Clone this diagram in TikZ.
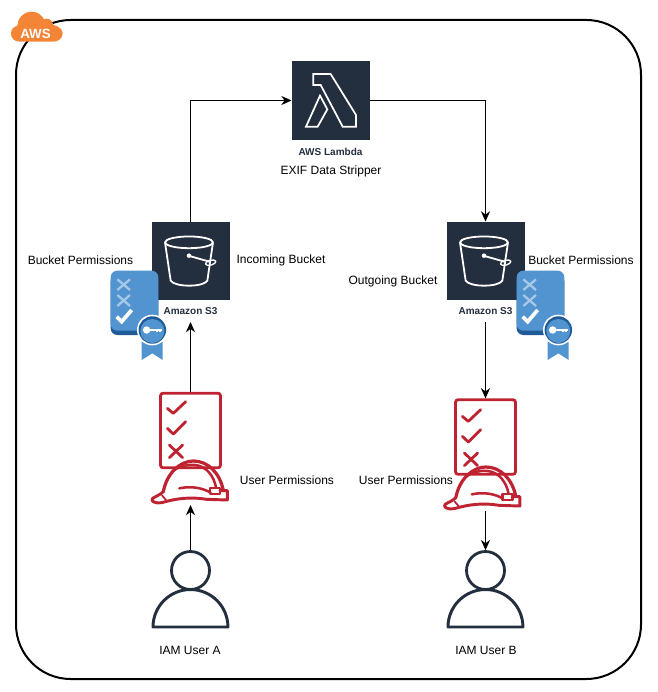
\documentclass[tikz,border=0pt]{standalone}
\usepackage{fontspec}
\setmainfont{Liberation Sans}
\usepackage{tikz}
\usetikzlibrary{arrows.meta}
\definecolor{awsink}{HTML}{232F3E}
\definecolor{awsorange}{HTML}{F58536}
\definecolor{awsred}{HTML}{BF2231}
\definecolor{awsblue}{HTML}{5294CF}
\definecolor{awsdeep}{HTML}{205B99}
\definecolor{awspale}{HTML}{A7C9E8}
\tikzset{
  link/.style     = {-{Stealth[length=2.7mm,width=2.4mm]},line width=0.75pt},
  iconbox/.style  = {fill=awsink,minimum size=58.5pt,inner sep=0pt,outer sep=0pt},
  iconcap/.style  = {font=\fontsize{7.5}{9}\selectfont\bfseries,text=awsink,minimum height=16.5pt,inner sep=0pt,outer sep=0pt},
  caption/.style  = {font=\fontsize{9}{11}\selectfont,text=black,inner sep=0pt},
  listbox/.style  = {draw=awsred,line width=2.1pt,rounded corners=2pt,minimum width=45pt,minimum height=56pt,inner sep=0pt,outer sep=1pt},
  userhead/.style = {circle,draw=awsink,fill=white,line width=2.1pt,minimum size=28.5pt,inner sep=0pt,outer sep=1pt},
  redline/.style  = {draw=awsred,line cap=round,line join=round},
  zoomed/.style   = {x=0.25pt,y=-0.25pt},
  pics/bucket/.style = {code={
    \begin{scope}[zoomed,draw=white,line width=1.35pt,line join=round]
      \draw (267,97) ellipse[x radius=18pt,y radius=4.4pt];
      \draw (195,97) -- (212,212) .. controls (225,232) and (310,232) .. (322,212) -- (339,97);
      \draw (265,137) -- (332,156);
      \draw[line width=1pt,rotate around={15:(332,158)}] (332,158) ellipse[x radius=4pt,y radius=1.8pt];
      \fill[white] (267,137) circle (1.7pt);
    \end{scope}}},
  pics/lambdamark/.style = {code={
    \begin{scope}[zoomed,draw=white,line width=1.3pt,line join=miter]
      \draw (100,72) -- (100,105) -- (122,105) -- (188,230) -- (228,230) -- (228,195) -- (152,72) -- cycle;
      \draw (120,137) -- (78,230) -- (113,230) -- (142,178) -- cycle;
    \end{scope}}},
  pics/marks/.style = {code={
    \begin{scope}[zoomed,redline,line width=2.1pt]
      \draw (82,85) -- (100,100) -- (137,65);
      \draw (82,145) -- (100,162) -- (137,125);
      \draw (88,195) -- (128,233) (128,195) -- (88,233);
    \end{scope}}},
  pics/hardhat/.style = {code={
    \begin{scope}[zoomed,redline,line width=1.9pt]
      \draw[line width=2.4pt] (70,335) .. controls (80,280) and (120,243) .. (160,243) .. controls (205,243) and (240,280) .. (250,332);
      \draw (100,272) .. controls (120,258) and (140,253) .. (165,255) .. controls (200,258) and (222,290) .. (228,322);
      \draw[line width=2.2pt] (240,332) -- (262,332) -- (262,360) -- (200,358) .. controls (150,350) and (110,355) .. (65,368)
        .. controls (45,372) and (30,362) .. (38,355) .. controls (45,350) and (60,345) .. (70,335);
      \draw[line width=1.3pt] (66,346) -- (78,360);
      \draw (118,325) .. controls (150,318) and (185,322) .. (212,338);
      \draw[line width=1.6pt] (210,325) rectangle (240,342);
    \end{scope}}},
  pics/permbadge/.style = {code={
    \begin{scope}[zoomed]
      \fill[awsdeep,rounded corners=5pt] (32,195) rectangle (175,375);
      \fill[awsblue,rounded corners=5pt] (32,182) rectangle (175,362);
      \draw[awspale,line width=1.7pt] (52,208) -- (90,240) (90,208) -- (52,240) (52,255) -- (90,288) (90,255) -- (52,288);
      \draw[white,line width=2.8pt] (50,320) -- (65,335) -- (95,300);
      \fill[awsblue] (125,395) -- (188,395) -- (188,450) -- (157,430) -- (125,450) -- cycle;
      \fill[white] (157,360) circle (11.5pt);
      \fill[awsdeep] (157,360) circle (10.3pt);
      \fill[awsblue] (157,363) circle (9pt);
      \fill[white] (140,360) circle (2.8pt);
      \draw[white,line width=1.3pt] (140,360) -- (185,360) (170,360) -- (170,367) (180,360) -- (180,367);
    \end{scope}}},
  pics/awscloud/.style = {code={
    \begin{scope}[zoomed]
      \fill[awsorange] (60,125) .. controls (40,125) and (33,112) .. (33,100)
        .. controls (33,88) and (42,80) .. (52,77)
        .. controls (52,55) and (72,35) .. (95,35)
        .. controls (112,35) and (125,45) .. (132,58)
        .. controls (140,52) and (158,58) .. (160,75)
        .. controls (175,78) and (188,88) .. (188,100)
        .. controls (188,115) and (175,125) .. (160,125) -- cycle;
    \end{scope}}}
}
\begin{document}
\begin{tikzpicture}[x=0.75pt,y=-0.75pt]
  \useasboundingbox (0,0) rectangle (657,692);
  \draw[line width=1.5pt,rounded corners=41pt] (16,20) rectangle (641,679);
  \pic at (0,0) {awscloud};
  \node[font=\fontsize{10}{11}\selectfont\bfseries,text=white,inner sep=0pt] (awstag) at (35.5,33.5) {AWS};

  % lambda and the two buckets
  \node[iconbox] (lambdabox) at (330.5,100.5) {};
  \pic at (280,50) {lambdamark};
  \node[iconcap] (lambdacap) at (330.5,152) {AWS Lambda};
  \node[caption] (lambdatext) at (331,171) {EXIF Data Stripper};
  \node[iconbox] (s3inbox) at (190.5,260.5) {};
  \pic at (100,210) {bucket};
  \node[iconcap] (s3incap) at (190.5,311) {Amazon S3};
  \node[iconbox] (s3outbox) at (485.5,260.5) {};
  \pic at (395,210) {bucket};
  \node[iconcap] (s3outcap) at (485.5,311) {Amazon S3};
  \pic at (100,210) {permbadge};
  \pic at (506,210) {permbadge};

  \node[caption] (permtextA) at (80.5,260.5) {Bucket Permissions};
  \node[caption] (intext) at (281,260.5) {Incoming Bucket};
  \node[caption] (outtext) at (393,281) {Outgoing Bucket};
  \node[caption] (permtextB) at (581,260.5) {Bucket Permissions};

  % user permissions
  \node[listbox] (listA) at (190.5,430.5) {};
  \pic at (140,380) {marks};
  \pic at (140,380) {hardhat};
  \coordinate (hatA) at (190.5,505);
  \node[listbox] (listB) at (485.5,437) {};
  \pic at (435,388) {marks};
  \pic at (432.5,386) {hardhat};
  \coordinate (hatB) at (485.5,511);
  \node[caption] (usertextA) at (287,480) {User Permissions};
  \node[caption] (usertextB) at (406,480) {User Permissions};

  % users
  \foreach \name/\mid in {A/190.5,B/485.5}{
    \draw[awsink,line width=2.2pt,line join=round] (\mid-37.5,627) arc[start angle=180,end angle=0,radius=28.1pt] -- cycle;
    \node[userhead] (head\name) at (\mid,570.5) {};
  }
  \node[caption] (nameA) at (190,650.5) {IAM User A};
  \node[caption] (nameB) at (486,650.5) {IAM User B};

  \draw[link] (s3inbox.north) |- (lambdabox.west);
  \draw[link] (lambdabox.east) -| (s3outbox.north);
  \draw[link] (listA.north) -- (s3incap.south);
  \draw[link] (s3outcap.south) -- (listB.north);
  \draw[link] (headA.north) -- (hatA);
  \draw[link] (hatB) -- (headB.north);
\end{tikzpicture}
\end{document}
